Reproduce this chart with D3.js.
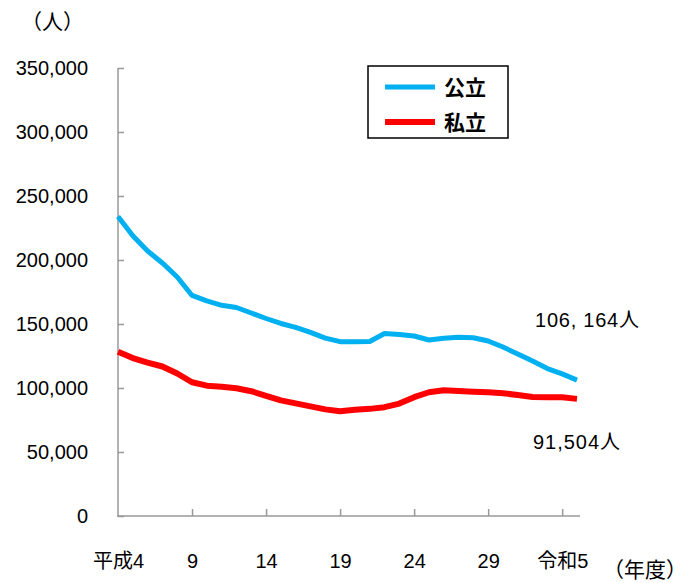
<!DOCTYPE html>
<html><head><meta charset="utf-8">
<script src="https://cdn.jsdelivr.net/npm/d3@7"></script>
<style>
body{margin:0;background:#fff;}
text{font-family:"Liberation Sans",Arial,"Noto Sans CJK JP",sans-serif;}
</style></head>
<body>
<svg id="c" width="689" height="583"></svg>
<script>
const years = d3.range(0, 32); // 平成4 (1992) .. 令和5 (2023)
const publicValues = [234000,219000,207000,197700,186700,172300,168000,164600,162900,158600,154300,150400,147300,143400,139000,136200,136100,136300,142600,141800,140600,137500,138800,139600,139300,136700,132000,126600,121000,115200,111000,106164];
const privateValues = [128400,123400,119900,116800,111300,104500,101800,101000,99800,97500,93800,90300,88000,85600,83300,81800,83000,83700,85000,87800,92800,96700,98200,97700,97100,96600,95900,94500,93000,92700,92700,91504];
const xTickIdx = [0,5,10,15,20,25,30];
const xTickLabels = ["平成4","9","14","19","24","29","令和5"];
const yTicks = [0,50000,100000,150000,200000,250000,300000,350000];
const seriesNames = ["公立","私立"];
const colors = ["#00B0F0","#FF0000"];

const svg = d3.select("#c");
const x = d3.scaleLinear().domain([0,31]).range([118,577]);
const y = d3.scaleLinear().domain([0,350000]).range([516,68]);

// y axis
const ya = svg.append("g").attr("transform","translate(118,0)")
  .call(d3.axisLeft(y).tickValues(yTicks).tickSize(-6).tickPadding(30).tickFormat(d3.format(",")));
ya.select(".domain").remove();
ya.selectAll(".tick line").attr("stroke","#999").attr("stroke-width",1.5);
ya.selectAll("text").attr("font-size",20).attr("fill","#000").attr("font-family","'Liberation Sans',Arial,sans-serif");
svg.append("line").attr("x1",118).attr("x2",118).attr("y1",68).attr("y2",517).attr("stroke","#999").attr("stroke-width",1.5);

// x axis
const xa = svg.append("g").attr("transform","translate(0,516)")
  .call(d3.axisBottom(x).tickValues(xTickIdx).tickSize(-7).tickPadding(38).tickFormat((d,i)=>xTickLabels[i]));
xa.select(".domain").remove();
xa.selectAll(".tick line").attr("stroke","#999").attr("stroke-width",1.5).filter(d=>d===0).remove();
xa.selectAll("text").attr("font-size",20).attr("fill","#000").attr("font-family","'Noto Sans CJK JP',sans-serif");
svg.append("line").attr("x1",117.25).attr("x2",580).attr("y1",516).attr("y2",516).attr("stroke","#999").attr("stroke-width",1.5);

// lines
const line = d3.line().x((d,i)=>x(years[i])).y(d=>y(d));
[publicValues, privateValues].forEach((vals,k)=>{
  svg.append("path").datum(vals).attr("d",line).attr("fill","none")
    .attr("stroke",colors[k]).attr("stroke-width",k===0?5:6).attr("stroke-linejoin","round");
});

// unit labels
svg.append("text").attr("x",21).attr("y",29).attr("font-size",21).attr("font-family","'Noto Sans CJK JP',sans-serif").text("（人）");
svg.append("text").attr("x",603).attr("y",577).attr("font-size",21).attr("font-family","'Noto Sans CJK JP',sans-serif").text("（年度）");

// end annotations
svg.append("text").attr("x",535).attr("y",327).attr("font-size",20).attr("font-family","'Noto Sans CJK JP',sans-serif").attr("textLength",104).text("106, 164人");
svg.append("text").attr("x",533).attr("y",449).attr("font-size",20).attr("font-family","'Noto Sans CJK JP',sans-serif").attr("textLength",87).text("91,504人");

// legend
const lg = svg.append("g");
lg.append("rect").attr("x",368).attr("y",66).attr("width",140).attr("height",72).attr("fill","#fff").attr("stroke","#000").attr("stroke-width",1.5);
seriesNames.forEach((n,k)=>{
  const ly = 87 + k*35;
  lg.append("line").attr("x1",385).attr("x2",435).attr("y1",ly).attr("y2",ly).attr("stroke",colors[k]).attr("stroke-width",k===0?5:6);
  lg.append("text").attr("x",444).attr("y",ly+8).attr("font-size",21).attr("font-family","'Noto Sans CJK JP',sans-serif").attr("font-weight","bold").text(n);
});
</script>
</body></html>
